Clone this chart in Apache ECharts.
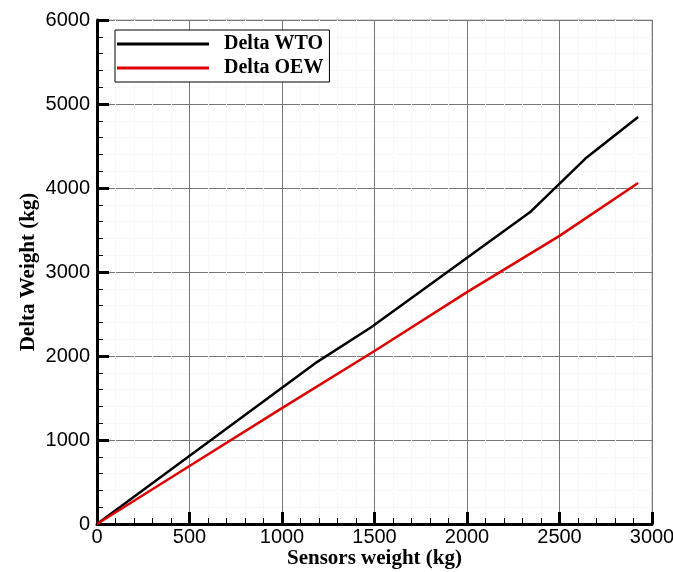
<!DOCTYPE html>
<html>
<head>
<meta charset="utf-8">
<script src="https://cdn.jsdelivr.net/npm/echarts@6/dist/echarts.min.js"></script>
<style>
html, body { margin: 0; padding: 0; background: #fff; }
#chart { width: 673px; height: 572px; }
</style>
</head>
<body>
<div id="chart"></div>
<script>
var seriesNames = ['Delta WTO', 'Delta OEW'];
var wtoX = [0, 1180, 1480, 2340, 2640, 2925];
var wtoY = [0, 1915, 2340, 3710, 4350, 4845];
var oewX = [0, 500, 1000, 1500, 2000, 2500, 2925];
var oewY = [0, 690, 1380, 2060, 2760, 3430, 4060];

function pairs(xs, ys) {
	return xs.map(function (x, i) { return [x, ys[i]]; });
}

function plain(v) {
	return String(v);
}

var myChart = echarts.init(document.getElementById('chart'));

var serifFont = '"Liberation Serif", "Times New Roman", serif';
var sansFont = '"Liberation Sans", Arial, sans-serif';

option = {
    animation: false,
    backgroundColor: '#fff',
    grid: {
        left: 97,
        right: 21,
        top: 20,
        bottom: 48,
        outerBoundsMode: 'none',
        show: true,
        borderColor: '#aaa',
        borderWidth: 1
    },
    legend: {
        left: 115,
        top: 30,
        orient: 'vertical',
        itemWidth: 92,
        itemHeight: 3,
        itemGap: 4,
        icon: 'rect',
        padding: [4, 6, 4, 2],
        borderColor: '#000',
        borderWidth: 1,
        backgroundColor: '#fff',
        data: seriesNames,
        textStyle: {
            fontFamily: serifFont,
            fontWeight: 'bold',
            fontSize: 20,
            color: '#000',
            padding: [0, 0, 0, 10]
        }
    },
    xAxis: {
        type: 'value',
        min: 0,
        max: 3000,
        interval: 500,
        name: 'Sensors weight (kg)',
        nameLocation: 'middle',
        nameGap: 24,
        nameMoveOverlap: false,
        nameTextStyle: {
            fontFamily: serifFont,
            fontWeight: 'bold',
            fontSize: 21,
            color: '#000'
        },
        axisLine: { show: true, onZero: false, lineStyle: { color: '#000', width: 3 } },
        axisTick: { show: true, inside: true, length: 12, lineStyle: { color: '#000', width: 3 } },
        minorTick: { show: true, splitNumber: 5, length: 6, lineStyle: { color: '#000', width: 1 } },
        axisLabel: { fontFamily: sansFont, fontSize: 20, color: '#000', margin: 3, formatter: plain },
        splitLine: { show: true, lineStyle: { color: '#777', width: 1 } },
        minorSplitLine: { show: true, lineStyle: { color: '#f2f2f2', width: 1, type: 'dotted' } }
    },
    yAxis: {
        type: 'value',
        min: 0,
        max: 6000,
        interval: 1000,
        name: 'Delta Weight (kg)',
        nameLocation: 'middle',
        nameGap: 58,
        nameMoveOverlap: false,
        nameTextStyle: {
            fontFamily: serifFont,
            fontWeight: 'bold',
            fontSize: 21,
            color: '#000'
        },
        axisLine: { show: true, onZero: false, lineStyle: { color: '#000', width: 3 } },
        axisTick: { show: true, inside: true, length: 12, lineStyle: { color: '#000', width: 3 } },
        minorTick: { show: true, splitNumber: 5, length: 6, lineStyle: { color: '#000', width: 1 } },
        axisLabel: { fontFamily: sansFont, fontSize: 20, color: '#000', margin: 7, formatter: plain },
        splitLine: { show: true, lineStyle: { color: '#777', width: 1 } },
        minorSplitLine: { show: true, lineStyle: { color: '#f2f2f2', width: 1, type: 'dotted' } }
    },
    series: [
        {
            name: seriesNames[0],
            type: 'line',
            symbol: 'none',
            color: '#000',
            lineStyle: { color: '#000', width: 2.5 },
            data: pairs(wtoX, wtoY)
        },
        {
            name: seriesNames[1],
            type: 'line',
            symbol: 'none',
            color: '#dd0000',
            lineStyle: { color: '#dd0000', width: 2.5 },
            data: pairs(oewX, oewY)
        }
    ]
};

myChart.setOption(option);
</script>
</body>
</html>
